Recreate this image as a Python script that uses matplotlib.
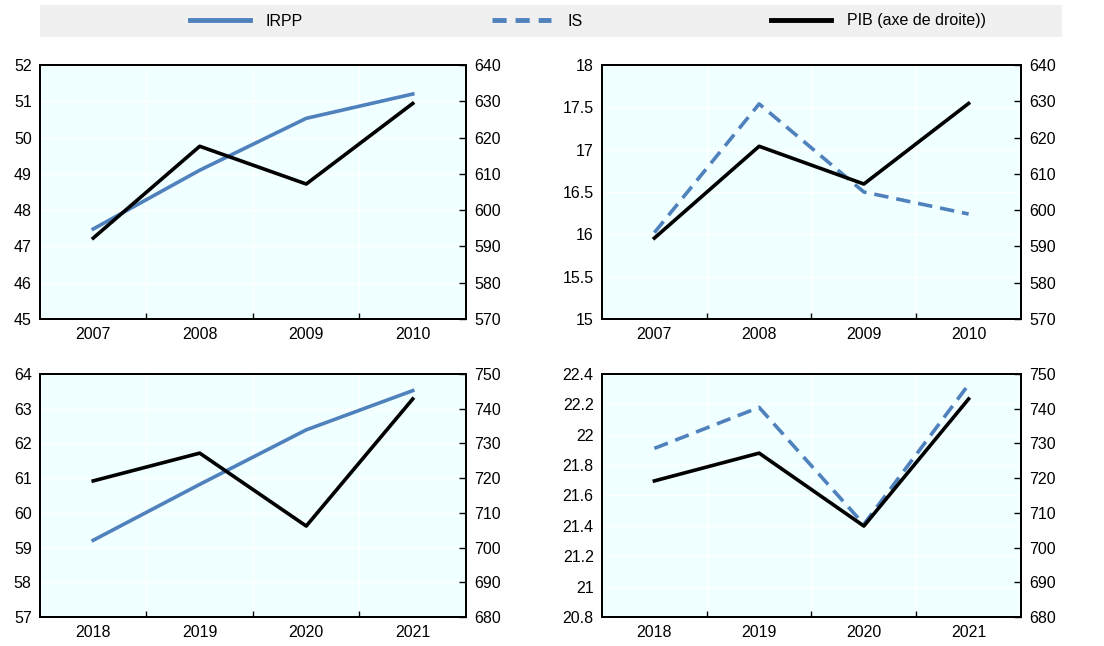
import matplotlib
matplotlib.use("Agg")
import matplotlib.pyplot as plt
from matplotlib.lines import Line2D
from matplotlib.patches import Rectangle

plt.rcParams["font.family"] = ["Liberation Sans", "DejaVu Sans"]

BLUE = "#4F81BD"
BG = "#F0FFFF"

years_top = ["2007", "2008", "2009", "2010"]
years_bottom = ["2018", "2019", "2020", "2021"]

irpp_top = [47.48, 49.1, 50.53, 51.2]
is_top = [16.02, 17.54, 16.5, 16.24]
pib_top = [592.3, 617.6, 607.2, 629.4]

irpp_bottom = [59.21, 60.82, 62.39, 63.52]
is_bottom = [21.91, 22.18, 21.41, 22.33]
pib_bottom = [719.2, 727.2, 706.2, 742.8]

FS = 11.5


def draw_panel(fig, rect, labels, values, style, ylim, yticks, yticklabels, pib, ylim2, yticks2):
    ax = fig.add_axes(rect)
    ax.set_facecolor(BG)
    x = list(range(len(labels)))
    if style == "--":
        ax.plot(x, values, color=BLUE, lw=2.6, linestyle="--", dashes=(4, 2.2), zorder=3)
    else:
        ax.plot(x, values, color=BLUE, lw=2.6, zorder=3)
    ax.set_xlim(-0.5, len(labels) - 0.5)
    ax.set_ylim(*ylim)
    ax.set_yticks(yticks)
    ax.set_yticklabels(yticklabels)
    ax.set_xticks(x)
    ax.set_xticklabels(labels)
    ax.set_xticks([i + 0.5 for i in x[:-1]], minor=True)
    ax.tick_params(axis="x", which="major", length=0, labelsize=FS, pad=6)
    ax.tick_params(axis="x", which="minor", length=4, direction="in", width=1)
    ax.tick_params(axis="y", length=0, labelsize=FS, pad=6)
    ax.grid(True, axis="y", color="white", lw=1)
    ax.grid(True, axis="x", which="minor", color="white", lw=1)
    ax.set_axisbelow(True)
    for s in ax.spines.values():
        s.set_linewidth(1.4)
        s.set_color("black")

    ax2 = ax.twinx()
    ax2.plot(x, pib, color="black", lw=2.6, zorder=4)
    ax2.set_ylim(*ylim2)
    ax2.set_yticks(yticks2)
    ax2.tick_params(axis="y", length=5, direction="in", width=1, labelsize=FS, pad=6)
    for s in ax2.spines.values():
        s.set_linewidth(1.4)
    return ax, ax2


fig = plt.figure(figsize=(11.04, 6.46), dpi=100)

w_l, w_r = 0.3859, 0.3795
top_rect_h = 0.3932
bot_rect_h = 0.3762

draw_panel(fig, [0.0362, 0.5062, w_l, top_rect_h], years_top, irpp_top, "-",
           (45, 52), range(45, 53), [str(v) for v in range(45, 53)],
           pib_top, (570, 640), range(570, 641, 10))
is_ticks_top = [15, 15.5, 16, 16.5, 17, 17.5, 18]
draw_panel(fig, [0.5453, 0.5062, w_r, top_rect_h], years_top, is_top, "--",
           (15, 18), is_ticks_top, ["15", "15.5", "16", "16.5", "17", "17.5", "18"],
           pib_top, (570, 640), range(570, 641, 10))
draw_panel(fig, [0.0362, 0.0449, w_l, bot_rect_h], years_bottom, irpp_bottom, "-",
           (57, 64), range(57, 65), [str(v) for v in range(57, 65)],
           pib_bottom, (680, 750), range(680, 751, 10))
is_ticks_bot = [20.8, 21.0, 21.2, 21.4, 21.6, 21.8, 22.0, 22.2, 22.4]
draw_panel(fig, [0.5453, 0.0449, w_r, bot_rect_h], years_bottom, is_bottom, "--",
           (20.8, 22.4), is_ticks_bot, ["20.8", "21", "21.2", "21.4", "21.6", "21.8", "22", "22.2", "22.4"],
           pib_bottom, (680, 750), range(680, 751, 10))

# legend band
fig.patches.append(Rectangle((40 / 1104, 1 - 37 / 646), 1022 / 1104, 32 / 646,
                             transform=fig.transFigure, facecolor="#F0F0F0",
                             edgecolor="none", zorder=0))
handles = [
    Line2D([], [], color=BLUE, lw=3.5),
    Line2D([], [], color=BLUE, lw=3.5, linestyle="--", dashes=(2.9, 1.85)),
    Line2D([], [], color="black", lw=3.5),
]
fig.legend(handles, ["IRPP", "IS", "PIB (axe de droite))"], loc="center",
           bbox_to_anchor=(588 / 1104, 1 - 21 / 646), ncol=3, frameon=False,
           fontsize=FS, handlelength=3.75, handletextpad=1.0, columnspacing=11.8)

fig.savefig("out.png", dpi=100)
